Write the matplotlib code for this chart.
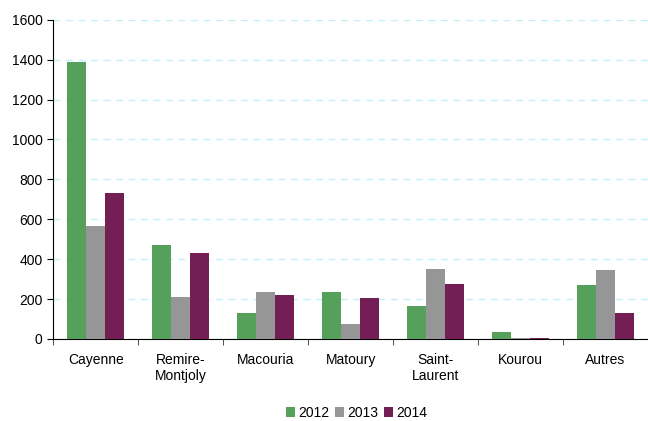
import numpy as np
import matplotlib.pyplot as plt

plt.rcParams['font.family'] = ['Liberation Sans', 'DejaVu Sans']

categories = ['Cayenne', 'Remire-\nMontjoly', 'Macouria', 'Matoury', 'Saint-\nLaurent', 'Kourou', 'Autres']
v2012 = [1388, 470, 130, 235, 165, 35, 270]
v2013 = [565, 210, 235, 75, 350, 4, 345]
v2014 = [730, 430, 220, 205, 275, 5, 130]
years = ['2012', '2013', '2014']
colors = ['#55A05A', '#969696', '#731F56']

fig = plt.figure(figsize=(6.48, 4.21), dpi=100)
ax = fig.add_axes([0.082, 0.195, 0.918, 0.758])

x = np.arange(len(categories))
w = 0.225
for i, (vals, lab, c) in enumerate(zip([v2012, v2013, v2014], years, colors)):
    ax.bar(x + (i - 1) * w, vals, w, color=c, label=lab, zorder=3)

ax.set_xlim(-0.5, len(categories) - 0.5)
ax.set_ylim(0, 1600)
ax.set_yticks(range(0, 1601, 200))
ax.yaxis.grid(True, color='#C0F0F8', linestyle=(0, (5, 4)), linewidth=1, zorder=0)

ax.set_xticks(x)
ax.set_xticklabels(categories, fontsize=10)
ax.set_xticks(np.arange(-0.5, len(categories), 1), minor=True)
ax.tick_params(axis='x', which='major', length=0, pad=10)
ax.tick_params(axis='x', which='minor', length=4, direction='out', color='#333333')
ax.tick_params(axis='y', labelsize=10, length=4, direction='out')

for s in ['top', 'right']:
    ax.spines[s].set_visible(False)
ax.spines['left'].set_color('black')
ax.spines['bottom'].set_color('black')

fig.legend(loc='center', bbox_to_anchor=(0.55, 0.019), ncol=3, frameon=False,
           handlelength=0.7, handleheight=0.7, handletextpad=0.2, columnspacing=0.4,
           fontsize=10)

plt.savefig('out.png', dpi=100)
